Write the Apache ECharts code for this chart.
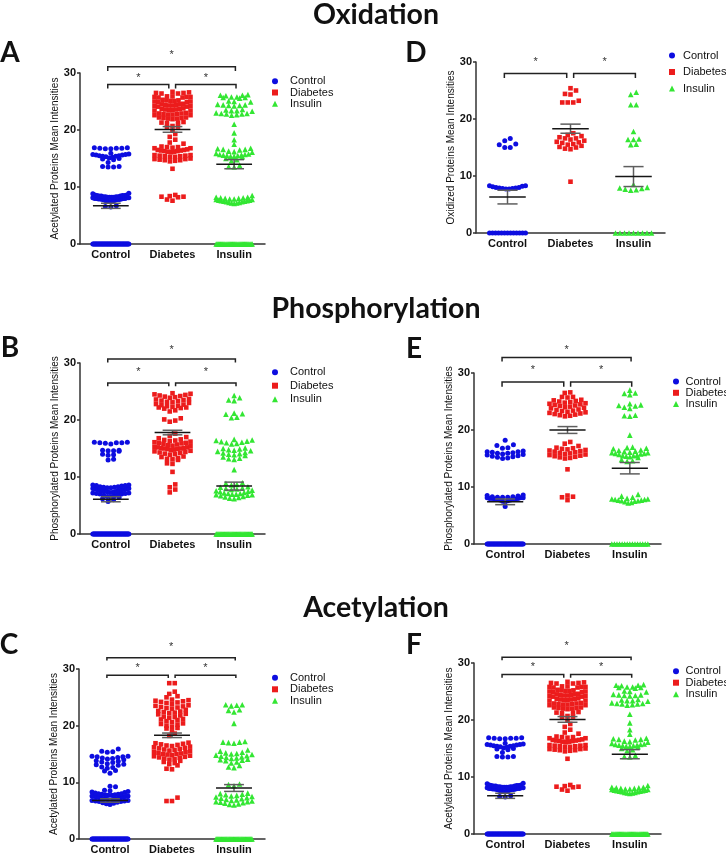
<!DOCTYPE html>
<html>
<head>
<meta charset="utf-8">
<script src="https://cdn.jsdelivr.net/npm/echarts@6/dist/echarts.min.js"></script>
<style>
  html, body { margin: 0; padding: 0; background: #fff; }
  #main { width: 726px; height: 855px; }
</style>
</head>
<body>
<div id="main"></div>
<script>
// categories and axis ticks
const categories = ['Control', 'Diabetes', 'Insulin']
const yTicks = [0, 10, 20, 30]

// A - Oxidation (acetylated)
const panelA_control = [
  0,0,0,0,0,0,0,0,0,0, 0,0,0,0,0,0,0,0,0,0, 0,0,0,0,0,0,0,0,0,0, 0,0,0,0,0,0,0,0,0,0, 0,0,0,0,
  6.5,6.6,6.7, 7.4,7.5,7.5,7.6,7.6,7.7,7.7,7.8,7.8,7.8,7.9,7.9,7.9,8.0,8.0,8.0,8.0,8.1,8.1,8.1,8.2,8.2,8.2,8.2,
  8.3,8.3,8.3,8.3,8.4,8.4,8.4,8.5,8.5,8.5,8.6,8.6,8.8,8.9,
  13.5,13.5,13.6,13.6,14.3,14.8,14.9,15.0,15.1,15.2,15.3,15.4,15.4,15.5,15.5,15.6,15.6,15.7,15.7,15.8,15.9,
  16.7,16.7,16.8,16.8,16.8,16.9,16.9
]
const panelA_diabetes = [
  7.6,7.8,8.2,8.3,8.3,8.4,8.6, 13.2,
  14.5,14.6,14.7,14.7,14.8,14.9,14.9,15.0, 15.3,15.3,15.4,15.4,15.5,15.5,15.6,15.6,
  16.1,16.2,16.2,16.3,16.3,16.4,16.4,16.5,16.5,16.6, 16.8,16.8,16.9,17.0,17.0,17.1, 17.6,17.8,
  18.3,18.8,19.3,19.9, 20.5,20.6,20.7, 21.2,21.3,21.3,21.4,
  21.9,22.0,22.0,22.1,22.1,22.2,22.2, 22.6,22.6,22.7,22.7,22.8,22.8,22.9,22.9,23.0,
  23.4,23.4,23.5,23.5,23.6,23.6,23.7,23.7,23.8,
  24.1,24.1,24.2,24.2,24.3,24.3,24.4,24.4,24.5,24.5,24.6,
  24.9,24.9,25.0,25.0,25.1,25.1,25.2,25.2,25.3,
  25.7,25.7,25.8,25.8,25.8,25.9,25.9, 26.4,26.4,26.5,26.5,26.6,26.7
]
const panelA_insulin = [
  0,0,0,0,0,0,0,0,0,0, 0,0,0,0,0,0,0,0,0,0, 0,0,0,0,0,0,0,0,0,0, 0,0,0,0,
  7.1,7.2,7.2,7.3,7.3,7.4,7.4,7.5,7.5,7.6,7.6,7.7,7.7,7.8,7.8,7.9,7.9,8.0,8.0,8.1,8.1,8.2,8.2, 8.5,
  13.5,13.6,13.8,14.6,14.8,15.0, 15.3,15.4,15.4,15.5,15.5,15.6,15.6,15.7,15.7,15.8,15.9,
  16.1,16.2,16.3,16.5,16.6,16.6,16.7,16.8, 17.5,18.3,19.5,21.0,
  22.6,22.7,22.8,22.8,22.9,22.9,23.0, 23.3,23.4,23.4,23.5,23.6,
  24.2,24.3,24.3,24.4,24.4,24.5, 24.9,25.0,25.1, 25.6,25.7,25.7,25.8,25.8, 26.0,26.1,26.1,26.2
]
const panelA_mean = [6.7, 20.1, 14.0]
const panelA_sem = [0.45, 0.5, 0.8]

// D - Oxidation (oxidized)
const panelD_control = [
  0,0,0,0,0,0,0,0,0,0, 0,0,0,
  7.7,7.7,7.8,7.8,7.9,7.9,8.0,8.0,8.1,8.2,8.3,8.3,
  15.0,15.0,15.5,15.6,16.2,16.6
]
const panelD_diabetes = [
  9.0,
  14.7,14.8,15.0,15.1,15.3,15.5,15.6,15.8,15.9,16.0,16.2,16.4,16.6,16.6,16.8,17.0,17.2,17.5,
  22.9,22.9,22.9,23.2,24.3,24.4,25.0,25.4
]
const panelD_insulin = [
  0,0,0,0,0,0,0,0,0,
  7.5,7.6,7.7,7.8,7.9,8.0,8.5,
  15.5,15.6,16.4,16.4,16.5,17.8,22.5,22.5,24.3,24.7
]
const panelD_mean = [6.3, 18.3, 9.9]
const panelD_sem = [1.2, 0.8, 1.75]

// B - Phosphorylation
const panelB_control = [
  0,0,0,0,0,0,0,0,0,0, 0,0,0,0,0,0,0,0,0,0, 0,0,0,0,0,0,0,0,0,0, 0,0,0,0,0,0,0,0,0,0, 0,0,0,0,0,0,
  5.7,6.0,6.2,6.4,6.5,6.6,6.7,6.8,6.9,7.0,7.0,7.1,7.1,7.2,7.2,7.3,7.3,7.4,7.4,7.5,7.5,
  7.6,7.6,7.7,7.7,7.8,7.8,7.9,7.9,8.0,8.0,8.1,8.1,8.2,8.2,8.3,8.3,8.4,8.5,8.5,8.6,8.6,
  13.0,13.1,13.8,13.9,14.0,14.5,14.6,14.6,14.7,14.7,15.8,15.9,16.0,16.0,16.0,16.1,16.1
]
const panelB_diabetes = [
  7.3,7.8,8.2,8.7, 10.9,12.3,12.4,
  13.0,13.1,13.2,13.3,13.5,13.6,13.9,14.0,14.1,14.2,14.3,14.4,14.5,
  14.6,14.7,14.8,14.9,14.9,15.0,15.0,15.1,15.1,15.2,15.2,15.3,15.4,15.5,
  15.6,15.7,15.8,15.9,16.0,16.0,16.1,16.2,16.3,16.4,16.5,16.6,16.8,17.0,17.2,17.6,
  19.7,19.9,20.1,20.3,21.5,21.7,
  22.0,22.1,22.2,22.2,22.3,22.4,22.5,22.6,22.7,22.8,
  23.0,23.1,23.2,23.3,23.4,23.5,23.6,23.7,
  23.9,24.0,24.1,24.2,24.3,24.4,24.5,24.6,24.7
]
const panelB_insulin = [
  0,0,0,0,0,0,0,0,0,0, 0,0,0,0,0,0,0,0,0,0, 0,0,0,0,0,0,0,0,0,0, 0,0,0,0,0,0,0,0,0,0,
  6.2,6.3,6.4,6.5,6.6,6.7,6.8,6.9,6.9,7.0,7.0,7.1,7.1,7.2,7.3,7.4,7.5,7.6,7.7,7.8,7.9,8.0,8.1,8.2,8.3,8.6,8.7,8.9,9.0,
  11.3,13.1,13.2,13.3,13.5,13.8,13.9,14.0,14.1,14.2,14.3,14.5,14.6,14.7,14.8,14.9,15.0,15.1,
  15.8,15.9,16.0,16.1,16.2,16.3,16.4,16.5,16.6,
  20.4,20.5,21.0,21.1,21.2,23.4,23.5,23.9,24.3
]
const panelB_mean = [6.1, 17.8, 8.4]
const panelB_sem = [0.45, 0.4, 0.7]

// E - Phosphorylation
const panelE_control = [
  0,0,0,0,0,0,0,0,0,0, 0,0,0,0,0,0,0,0,0,0, 0,0,0,0,0,0,0,0,0,0, 0,0,0,0,0,0,0,0,0,0,
  6.6,7.4,7.5,7.6,7.7,7.7,7.8,7.8,7.9,7.9,8.0,8.0,8.0,8.1,8.1,8.1,8.2,8.2,8.2,8.3,8.3,8.4,8.5,8.6,
  15.0,15.1,15.2,15.3,15.4,15.5,15.6,15.7,15.8,15.9,15.9,16.0,16.1,16.2,16.2,16.3,16.8,16.9,17.3,17.4,18.2
]
const panelE_diabetes = [
  7.7,8.2,8.3,8.5, 13.1,
  15.0,15.1,15.2,15.3,15.4,15.5,15.6,15.7,15.8,15.9,
  16.0,16.1,16.2,16.3,16.4,16.5,16.6,16.7,16.8,16.9,17.2,17.6,17.9,
  22.4,22.5,22.6,22.7,22.8,22.9,23.0,23.1,23.2,23.3,23.4,23.5,23.6,
  23.8,23.9,24.0,24.1,24.2,24.3,24.4,24.5,24.6,24.7,24.8,24.9,25.0,25.1,25.2,25.3,
  25.7,25.8,25.8,26.5,26.6
]
const panelE_insulin = [
  0,0,0,0,0,0,0,0,0,0, 0,0,0,0,0,
  7.2,7.3,7.4,7.5,7.6,7.6,7.7,7.7,7.8,7.8,7.9,7.9,8.0,8.2,8.4,8.7,
  14.5,14.6,14.8,15.2,15.3,15.4,15.5,15.5,15.6,15.7,15.8,15.9,15.9,16.0,16.0,
  16.1,16.2,16.3,16.4,16.5,16.7,16.8,16.9,17.0, 19.1,
  22.4,22.5,22.6,23.8,24.0,24.2,24.3,24.4,24.6,26.2,26.4,26.5,27.0
]
const panelE_mean = [7.4, 20.0, 13.3]
const panelE_sem = [0.5, 0.6, 1.0]

// C - Acetylation
const panelC_control = [
  0,0,0,0,0,0,0,0,0,0, 0,0,0,0,0,0,0,0,0,0, 0,0,0,0,0,0,0,0,0,0, 0,0,0,0,0,0,0,0,0,0, 0,0,0,0,0,0,
  6.1,6.2,6.3,6.4,6.5,6.6,6.6,6.7,6.7,6.8,6.8,6.9,6.9,7.0,7.0,7.1,7.1,7.2,7.2,7.3,7.3,7.4,7.4,
  7.5,7.5,7.6,7.6,7.7,7.7,7.8,7.8,7.9,7.9,8.0,8.0,8.1,8.2,8.3,8.4,8.5,8.6,9.2,9.3,
  11.6,12.0,12.1,12.5,12.6,12.7,13.0,13.1,13.2,13.3,13.5,13.6,13.7,13.8,
  14.0,14.1,14.2,14.3,14.4,14.5,14.5,14.6,14.6,15.3,15.4,15.5,15.9
]
const panelC_diabetes = [
  6.7,6.7,7.3,
  12.3,12.4,13.0,13.2,13.4,13.6,13.8,14.0,14.1,14.2,14.3,14.4,14.5,14.6,14.7,14.8,
  14.9,15.0,15.0,15.1,15.2,15.3,15.4,15.5,15.6,15.7,15.8,15.9,16.0,16.1,16.2,16.3,16.4,16.5,16.6,16.7,
  16.8,16.9,17.0,
  18.2,18.6,19.0,19.5,19.6,19.8,20.0,20.2,20.3,20.4,20.6,20.8,21.0,21.1,21.2,21.4,21.5,21.6,
  21.8,22.0,22.1,22.2,22.3,22.4,22.5,22.6,22.8,23.0,23.1,23.2,23.3,23.4,23.5,23.6,
  23.8,24.0,24.1,24.2,24.3,24.4,24.5,24.6,25.0,25.2,25.6,26.0,27.5,27.5
]
const panelC_insulin = [
  0,0,0,0,0,0,0,0,0,0, 0,0,0,0,0,0,0,0,0,0, 0,0,0,0,0,0,0,0,0,0, 0,0,0,0,0,0,0,0,0,0,
  6.0,6.1,6.2,6.3,6.4,6.5,6.6,6.6,6.7,6.8,6.9,7.0,7.1,7.2,7.3,7.4,7.5,7.6,7.7,7.8,7.9,8.0,8.1,
  9.4,9.6,9.7,
  12.6,12.7,13.0,13.4,13.6,13.8,13.9,14.0,14.1,14.2,14.3,14.4,14.5,14.6,14.7,14.8,14.9,
  15.0,15.1,15.2,15.3,15.5,15.7,16.9,17.0,17.1,17.1,17.2,
  20.4,22.4,22.7,22.8,23.5,23.6,23.7,23.7
]
const panelC_mean = [6.8, 18.3, 9.0]
const panelC_sem = [0.3, 0.4, 0.6]

// F - Acetylation (same values as panel A in the source figure)
const panelF_control = panelA_control
const panelF_diabetes = panelA_diabetes
const panelF_insulin = panelA_insulin
const panelF_mean = panelA_mean
const panelF_sem = panelA_sem

// ---------- layout ----------
const colors = ['#0d0de0', '#ec1c1c', '#33e633']
const symbols = ['circle', 'rect', 'triangle']
const symbolSizes = [5, 4.6, 5.6]
const FONT = 'Liberation Sans'

const L = 0, M = 1, R = 2
// bracket: [x0, x1, lineY, tipY, starY]
const lowPair = (y, tip, star) => [[L - 0.05, M - 0.06, y, tip, star], [M + 0.05, R + 0.03, y, tip, star]]
const topPair = (y, tip, star) => [[L - 0.05, R + 0.02, y, tip, star]]

// legend: x = centre of the marker, textGap = marker centre to text start, rows = centre of first row
const panels = [
  { grid: { left: 80, top: 73, width: 185, height: 171 }, name: 'Acetylated Proteins Mean Intensities',
    values: [panelA_control, panelA_diabetes, panelA_insulin], mean: panelA_mean, sem: panelA_sem,
    brackets: topPair(31.1, 30.35, 33.5).concat(lowPair(28.0, 27.3, 29.5)),
    legend: { x: 275, y: 80.7, textGap: 15, step: 10.3 } },
  { grid: { left: 80, top: 363, width: 185, height: 171 }, name: 'Phosphorylated Proteins Mean Intensities',
    values: [panelB_control, panelB_diabetes, panelB_insulin], mean: panelB_mean, sem: panelB_sem,
    brackets: topPair(30.7, 30.1, 32.6).concat(lowPair(26.5, 25.9, 28.8)),
    legend: { x: 275, y: 371.7, textGap: 15, step: 12.5 } },
  { grid: { left: 79, top: 669, width: 186, height: 172 }, name: 'Acetylated Proteins Mean Intensities',
    values: [panelC_control, panelC_diabetes, panelC_insulin], mean: panelC_mean, sem: panelC_sem,
    brackets: topPair(32.0, 31.5, 34.25).concat(lowPair(28.9, 28.4, 30.6)),
    legend: { x: 275, y: 677.3, textGap: 15, step: 10.5 } },
  { grid: { left: 476, top: 62, width: 189, height: 171 }, name: 'Oxidized Proteins Mean Intensities',
    values: [panelD_control, panelD_diabetes, panelD_insulin], mean: panelD_mean, sem: panelD_sem,
    brackets: lowPair(28.0, 27.2, 30.4),
    legend: { x: 672, y: 55, textGap: 11, step: 15.5 } },
  { grid: { left: 474, top: 373, width: 187, height: 171 }, name: 'Phosphorylated Proteins Mean Intensities',
    values: [panelE_control, panelE_diabetes, panelE_insulin], mean: panelE_mean, sem: panelE_sem,
    brackets: topPair(32.7, 32.0, 34.4).concat(lowPair(28.4, 27.6, 30.8)),
    legend: { x: 676, y: 381, textGap: 9.5, step: 10.3 } },
  { grid: { left: 474, top: 663, width: 187, height: 171 }, name: 'Acetylated Proteins Mean Intensities',
    values: [panelF_control, panelF_diabetes, panelF_insulin], mean: panelF_mean, sem: panelF_sem,
    brackets: topPair(31.0, 30.5, 33.3).concat(lowPair(28.0, 27.4, 29.6)),
    legend: { x: 676, y: 670.7, textGap: 9.5, step: 10.5 } }
]

// spread points of one column sideways, Prism style: rows of close values,
// lowest value of a row in the middle so rows bend into a V
const binH = 0.72
const stepPx = 5.5
const halfPx = 18
function swarm(values, cat, unitPx) {
  const sorted = values.slice().sort((a, b) => a - b)
  const rows = []
  let cur = null
  sorted.forEach((v) => {
    if (!cur || v - cur.start > binH) {
      cur = { start: v, vals: [] }
      rows.push(cur)
    }
    cur.vals.push(v)
  })
  const out = []
  rows.forEach((r) => {
    const n = r.vals.length
    const sp = n > 1 ? Math.min(stepPx, (2 * halfPx) / (n - 1)) : 0
    const offs = []
    for (let i = 0; i < n; i++) offs.push((i - (n - 1) / 2) * sp)
    offs.sort((a, b) => Math.abs(a) - Math.abs(b) || a - b)
    r.vals.forEach((v, k) => out.push([cat + offs[k] / unitPx, v]))
  })
  return out
}

function renderMean(params, api) {
  const c = api.value(0), m = api.value(1), s = api.value(2)
  const p = (x, y) => api.coord([x, y])
  const a = p(c - 0.29, m), b = p(c + 0.29, m)
  const hi = p(c, m + s), lo = p(c, m - s)
  const w = p(c + 0.16, m)[0] - p(c, m)[0]
  const sem = { stroke: '#5e5e5e', lineWidth: 1.5 }
  return {
    type: 'group',
    children: [
      { type: 'line', shape: { x1: hi[0], y1: hi[1], x2: lo[0], y2: lo[1] }, style: sem },
      { type: 'line', shape: { x1: hi[0] - w, y1: hi[1], x2: hi[0] + w, y2: hi[1] }, style: sem },
      { type: 'line', shape: { x1: lo[0] - w, y1: lo[1], x2: lo[0] + w, y2: lo[1] }, style: sem },
      { type: 'line', shape: { x1: a[0], y1: a[1], x2: b[0], y2: b[1] }, style: { stroke: '#151515', lineWidth: 1.5 } }
    ]
  }
}

function renderBracket(params, api) {
  const x0 = api.value(0), x1 = api.value(1), y = api.value(2), tip = api.value(3), star = api.value(4)
  const p = (x, v) => api.coord([x, v])
  const s = p((x0 + x1) / 2, star)
  return {
    type: 'group',
    children: [
      { type: 'polyline', shape: { points: [p(x0, tip), p(x0, y), p(x1, y), p(x1, tip)] },
        style: { stroke: '#222', lineWidth: 1.5, fill: null } },
      { type: 'text', x: s[0], y: s[1] + 2,
        style: { text: '*', align: 'center', verticalAlign: 'middle', fontSize: 11, fontFamily: FONT, fill: '#333' } }
    ]
  }
}

const grid = [], xAxis = [], yAxis = [], series = [], legend = []
panels.forEach((pn, i) => {
  grid.push(Object.assign({ containLabel: false }, pn.grid))
  const unitPx = pn.grid.width / categories.length
  xAxis.push({
    type: 'category', gridIndex: i, data: categories,
    axisLine: { lineStyle: { color: '#333', width: 1.5 } },
    axisTick: { alignWithLabel: true, length: 4, lineStyle: { color: '#333', width: 1.5 } },
    axisLabel: { fontFamily: FONT, fontWeight: 'bold', fontSize: 11, color: '#111', margin: 5 }
  })
  xAxis.push({ type: 'value', gridIndex: i, min: -0.5, max: 2.5, show: false })
  yAxis.push({
    type: 'value', gridIndex: i,
    min: yTicks[0], max: yTicks[yTicks.length - 1], interval: yTicks[1] - yTicks[0],
    name: pn.name, nameLocation: 'middle', nameGap: 12,
    nameTextStyle: { fontFamily: FONT, fontSize: 10, color: '#111' },
    axisLine: { show: true, onZero: false, lineStyle: { color: '#333', width: 1.5 } },
    axisTick: { show: true, length: 3, lineStyle: { color: '#333', width: 1.5 } },
    axisLabel: { fontFamily: FONT, fontWeight: 'bold', fontSize: 11, color: '#111', margin: 4 },
    splitLine: { show: false }
  })
  categories.forEach((cat, c) => {
    series.push({
      type: 'scatter', name: cat, xAxisIndex: 2 * i + 1, yAxisIndex: i,
      symbol: symbols[c], symbolSize: symbolSizes[c],
      itemStyle: { color: colors[c], opacity: 1 },
      data: swarm(pn.values[c], c, unitPx), z: 2
    })
  })
  series.push({
    type: 'custom', xAxisIndex: 2 * i + 1, yAxisIndex: i, renderItem: renderMean, z: 5,
    data: categories.map((_, c) => [c, pn.mean[c], pn.sem[c]])
  })
  series.push({
    type: 'custom', xAxisIndex: 2 * i + 1, yAxisIndex: i, renderItem: renderBracket, z: 5,
    clip: false, data: pn.brackets
  })
  const lg = pn.legend
  const iw = 6
  legend.push({
    data: categories, orient: 'vertical', left: lg.x - iw / 2, top: lg.y - 5,
    itemWidth: iw, itemHeight: iw, itemGap: lg.step - 10, padding: 0,
    selectedMode: false,
    textStyle: { fontFamily: FONT, fontSize: 11, color: '#111', lineHeight: 10,
      padding: [0, 0, 0, lg.textGap - iw / 2 - 5] }
  })
})

const titleFont = 'bold 28.5px Lato'
const letterFont = 'bold 28px Lato'
const txt = (text, x, y, font) => ({
  type: 'text', x: x, y: y,
  style: { text: text, font: font, fill: '#111', align: 'center', verticalAlign: 'middle' }
})

const chart = echarts.init(document.getElementById('main'))
chart.setOption({
  animation: false,
  grid: grid, xAxis: xAxis, yAxis: yAxis, series: series, legend: legend,
  graphic: [
    txt('Oxidation', 376, 15, titleFont),
    txt('Phosphorylation', 376, 309, titleFont),
    txt('Acetylation', 376, 608, titleFont),
    txt('A', 10, 53, letterFont),
    txt('D', 416, 53, letterFont),
    txt('B', 10, 348, letterFont),
    txt('E', 414, 349, letterFont),
    txt('C', 9, 645, letterFont),
    txt('F', 414, 645, letterFont)
  ]
})
</script>
</body>
</html>
